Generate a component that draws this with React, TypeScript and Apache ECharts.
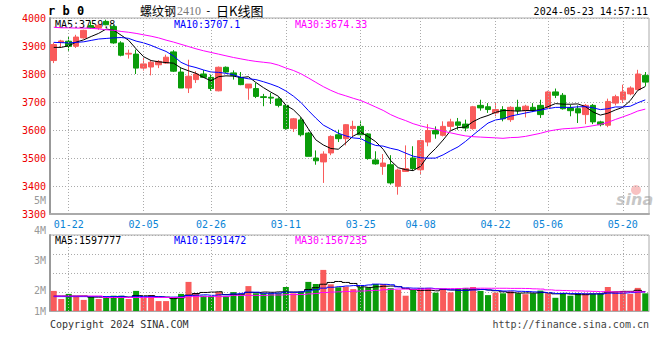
import React, { useEffect, useRef } from "react";
import * as echarts from "echarts";

// ---------- data ----------
const dates = [
  "01-18","01-19","01-22","01-23","01-24","01-25","01-26","01-29","01-30","01-31",
  "02-01","02-02","02-05","02-06","02-07","02-08","02-19","02-20","02-21","02-22",
  "02-23","02-26","02-27","02-28","02-29","03-01","03-04","03-05","03-06","03-07",
  "03-08","03-11","03-12","03-13","03-14","03-15","03-18","03-19","03-20","03-21",
  "03-22","03-25","03-26","03-27","03-28","03-29","04-01","04-02","04-03","04-08",
  "04-09","04-10","04-11","04-12","04-15","04-16","04-17","04-18","04-19","04-22",
  "04-23","04-24","04-25","04-26","04-29","04-30","05-06","05-07","05-08","05-09",
  "05-10","05-13","05-14","05-15","05-16","05-17","05-20","05-21","05-22","05-23",
];
const labelDates = ["01-22","02-05","02-26","03-11","03-25","04-08","04-22","05-06","05-20"];

const opens = [
  3848,3913,3917,3899,3929,3973,3964,3988,3970,3911,
  3871,3871,3821,3825,3833,3839,3879,3807,3750,3780,
  3800,3788,3740,3824,3804,3788,3750,3748,3719,3717,
  3711,3688,3605,3636,3589,3500,3486,3518,3583,3569,
  3605,3613,3586,3493,3470,3476,3399,3452,3500,3458,
  3557,3598,3581,3613,3629,3621,3605,3688,3683,3661,
  3673,3637,3681,3669,3681,3688,3681,3736,3724,3679,
  3676,3655,3688,3629,3617,3696,3708,3729,3744,3795,
];
const closes = [
  3905,3918,3899,3932,3956,3965,3974,3976,3911,3867,
  3874,3821,3836,3842,3845,3860,3810,3750,3792,3800,
  3788,3748,3824,3807,3795,3762,3764,3720,3716,3714,
  3688,3605,3640,3583,3506,3490,3514,3577,3569,3619,
  3613,3583,3498,3479,3482,3411,3457,3462,3462,3562,
  3598,3586,3613,3629,3617,3607,3683,3679,3673,3673,
  3640,3681,3669,3685,3671,3655,3736,3724,3676,3669,
  3661,3688,3629,3619,3702,3719,3736,3750,3800,3771,
];
const lows = [
  3839,3895,3883,3893,3926,3962,3958,3974,3908,3863,
  3855,3800,3812,3795,3821,3836,3807,3750,3732,3768,
  3786,3740,3738,3804,3780,3760,3708,3714,3685,3693,
  3681,3601,3593,3577,3506,3476,3411,3510,3557,3545,
  3577,3565,3494,3476,3440,3405,3369,3450,3455,3443,
  3542,3569,3577,3598,3601,3595,3601,3669,3661,3649,
  3631,3629,3655,3645,3664,3643,3679,3714,3673,3649,
  3625,3621,3621,3613,3610,3688,3696,3724,3744,3756,
];
const highs = [
  3912,3922,3932,3940,3958,3988,3980,3994,3975,3917,
  3887,3887,3860,3848,3850,3869,3885,3821,3851,3810,
  3814,3798,3827,3827,3813,3807,3764,3768,3729,3732,
  3717,3690,3643,3645,3593,3527,3524,3581,3601,3621,
  3633,3631,3589,3524,3514,3510,3462,3545,3542,3565,
  3621,3613,3631,3640,3643,3637,3686,3708,3696,3696,
  3685,3685,3708,3690,3696,3708,3740,3748,3732,3690,
  3688,3693,3693,3633,3712,3726,3762,3756,3815,3807,
];

const ma5 = [
  3895,3895,3901,3914,3922,3934,3945.2,3960.6,3956.4,3938.6,
  3920.4,3889.8,3861.8,3848,3843.6,3840.8,3838.6,3821.4,3811.4,3802.4,
  3788,3775.6,3790.4,3793.4,3792.4,3787.2,3790.4,3769.6,3751.4,3735.2,
  3720.4,3688.6,3672.6,3646,3604.4,3564.8,3546.6,3534,3531.2,3553.8,
  3578.4,3592.2,3576.4,3558.4,3531,3490.6,3465.4,3458.2,3454.8,3470.8,
  3508.2,3534,3564.2,3597.6,3608.6,3610.4,3629.8,3643,3651.8,3663,
  3669.6,3669.2,3667.2,3669.6,3669.2,3672.2,3683.2,3694.2,3692.4,3692,
  3693.2,3683.6,3664.6,3653.2,3659.8,3671.4,3681,3705.2,3741.4,3755.2,
];
const ma10 = [
  3913,3912,3911,3913,3915,3920,3925,3927,3929,3930.3,
  3927.2,3917.5,3911.2,3902.2,3891.1,3880.6,3864.2,3841.6,3829.7,3823,
  3814.4,3807.1,3805.9,3802.4,3797.4,3787.6,3783,3780,3772.4,3763.8,
  3753.8,3739.5,3721.1,3698.7,3669.8,3642.6,3617.6,3603.3,3588.6,3579.1,
  3571.6,3569.4,3555.2,3544.8,3542.4,3534.5,3528.8,3517.3,3506.6,3500.9,
  3499.4,3499.7,3511.2,3526.2,3539.7,3559.3,3581.9,3603.6,3624.7,3635.8,
  3640,3649.5,3655.1,3660.7,3666.1,3670.9,3676.2,3680.7,3681,3680.6,
  3682.7,3683.4,3679.4,3672.8,3675.9,3682.3,3682.3,3684.9,3697.3,3707.5,
];
const ma30 = [
  3967,3965,3965,3964,3964,3963,3961,3958,3956,3952,
  3949,3945,3940,3935,3929,3921,3914,3906,3898,3890,
  3883,3877,3871,3865,3859,3854,3849,3845,3842,3839.0,
  3831.8,3821.4,3812.7,3801.1,3786.1,3770.3,3754.9,3741.6,3730.2,3722.0,
  3713.3,3705.3,3694.1,3682.0,3669.9,3654.9,3643.1,3633.5,3622.5,3614.6,
  3608.3,3602.9,3595.8,3589.9,3584.0,3578.8,3576.1,3574.7,3573.3,3571.9,
  3570.3,3572.9,3573.8,3577.2,3582.7,3588.2,3595.6,3600.5,3604.1,3605.8,
  3607.4,3610.9,3615.2,3619.9,3627.2,3637.5,3646.8,3656.4,3667.7,3674.6,
];

// volumes in millions
const vols = [
  1.97,1.70,1.87,1.80,1.67,1.78,1.70,1.78,1.81,1.81,
  1.70,1.97,1.74,1.83,1.63,1.63,1.74,1.87,2.27,1.90,
  1.81,1.80,1.93,1.80,1.93,1.82,2.13,1.89,1.89,1.89,
  1.89,2.10,1.89,1.93,2.27,2.20,2.67,2.19,2.09,2.11,
  2.03,2.11,2.09,2.20,2.20,2.06,2.00,1.81,2.00,2.07,
  2.07,1.91,2.03,1.92,2.03,2.07,2.10,1.97,1.83,1.91,
  1.89,1.96,1.89,1.86,1.89,1.98,1.89,1.74,1.89,1.81,
  1.89,1.89,1.87,1.89,2.10,1.94,1.97,1.87,2.07,1.89,
];
const vma5 = [
  1.80,1.80,1.80,1.80,1.802,1.764,1.764,1.746,1.748,1.776,
  1.76,1.814,1.806,1.81,1.774,1.76,1.714,1.74,1.828,1.882,
  1.918,1.93,1.942,1.848,1.854,1.856,1.922,1.914,1.932,1.924,
  1.938,1.932,1.932,1.94,2.016,2.078,2.192,2.252,2.284,2.252,
  2.218,2.106,2.086,2.108,2.126,2.132,2.11,2.054,2.014,1.988,
  1.99,1.972,2.016,2.0,1.992,1.992,2.03,2.018,2.0,1.976,
  1.94,1.912,1.896,1.902,1.898,1.916,1.902,1.872,1.878,1.862,
  1.844,1.844,1.87,1.87,1.928,1.938,1.954,1.954,1.99,1.948,
];
const vma10 = [
  1.78,1.78,1.78,1.78,1.78,1.78,1.78,1.78,1.78,1.789,
  1.762,1.789,1.776,1.779,1.775,1.76,1.764,1.773,1.819,1.828,
  1.839,1.822,1.841,1.838,1.868,1.887,1.926,1.928,1.89,1.889,
  1.897,1.927,1.923,1.936,1.97,2.008,2.062,2.092,2.112,2.134,
  2.148,2.149,2.169,2.196,2.189,2.175,2.108,2.07,2.061,2.057,
  2.061,2.041,2.035,2.007,1.99,1.991,2.001,2.017,2.0,1.984,
  1.966,1.971,1.957,1.951,1.937,1.928,1.907,1.884,1.89,1.88,
  1.88,1.873,1.871,1.874,1.895,1.891,1.899,1.912,1.93,1.938,
];
const vma30 = [
  1.80,1.80,1.80,1.80,1.80,1.80,1.80,1.75,1.75,1.75,
  1.75,1.75,1.75,1.75,1.75,1.75,1.75,1.75,1.78,1.78,
  1.78,1.78,1.78,1.78,1.82,1.82,1.82,1.82,1.82,1.835,
  1.833,1.846,1.847,1.851,1.871,1.885,1.917,1.931,1.94,1.95,
  1.961,1.966,1.978,1.99,2.009,2.023,2.032,2.03,2.021,2.027,
  2.035,2.039,2.042,2.046,2.05,2.058,2.057,2.06,2.058,2.058,
  2.058,2.054,2.054,2.051,2.039,2.031,2.005,1.99,1.984,1.974,
  1.969,1.962,1.954,1.944,1.941,1.937,1.936,1.938,1.94,1.934,
];

const volTickLabels = ["5M", "4M", "3M", "2M", "1M"];
const volTickValues = [5, 4, 3, 2, 1];
const priceMALabels = ["MA5:3759.8", "MA10:3707.1", "MA30:3674.33"];
const volMALabels = ["MA5:1597777", "MA10:1591472", "MA30:1567235"];
const symbolText = "r b 0";
const titleMain = "螺纹钢";
const titleCode = "2410";
const titleDash = "-";
const titleKind = "日K线图";
const timestamp = "2024-05-23 14:57:11";
const copyright = "Copyright 2024 SINA.COM";
const siteUrl = "http://finance.sina.com.cn";

// ---------- styles / layout ----------
const RED = "#f95b5b";
const GREEN = "#0a9c0a";
const MA_COLORS = ["#000000", "#0000ff", "#ff00ff"];
const MONO = '"DejaVu Sans Mono", monospace';
const CJK = '"Noto Sans CJK SC", sans-serif';
const GRID_L = 50;
const GRID_W = 599;
const P_TOP = 18;
const P_H = 196;
const V_TOP = 235;
const V_H = 76;
const V_MIN = 1.3;
const V_MAX = V_MIN + V_H / 30;
const LEGEND_X = [55, 174, 295];
const HEAD_Y = 10.5;

export default function App() {
  const ref = useRef<HTMLDivElement>(null);

  useEffect(() => {
    if (!ref.current) return;
    const chart = echarts.init(ref.current, null, { renderer: "svg" });

    const candleData = dates.map((_, i) => [opens[i], closes[i], lows[i], highs[i]]);
    const vLines = {
      symbol: ["none", "none"],
      silent: true,
      label: { show: false },
      emphasis: { disabled: true },
      lineStyle: { color: "#aaa", type: [1, 2], width: 1 },
      data: labelDates.map((d) => ({ xAxis: d })),
    };

    const texts: any[] = [];
    const txt = (x: number, y: number, text: string, fill: string, extra: any = {}) =>
      texts.push({
        type: "text",
        x,
        y,
        silent: true,
        style: { text, fill, fontFamily: MONO, fontSize: 10, verticalAlign: "middle", ...extra },
      });

    txt(48, HEAD_Y, symbolText, "#000", { fontSize: 12, fontWeight: "bold" });
    txt(140, HEAD_Y, titleMain, "#000", { fontFamily: CJK, fontSize: 12 });
    txt(177, HEAD_Y, titleCode, "#777", { fontFamily: '"Liberation Serif", serif', fontSize: 12 });
    txt(205, HEAD_Y, titleDash, "#000", { fontSize: 11 });
    txt(216, HEAD_Y, titleKind, "#000", { fontFamily: CJK, fontSize: 13 });
    txt(648, HEAD_Y + 1, timestamp, "#000", { align: "right" });

    priceMALabels.forEach((t, i) => txt(LEGEND_X[i], 24, t, MA_COLORS[i]));
    volMALabels.forEach((t, i) => txt(LEGEND_X[i], 240, t, MA_COLORS[i]));

    volTickLabels.forEach((t, i) => {
      const y = Math.min(V_TOP + V_H, V_TOP + ((V_MAX - volTickValues[i]) / (V_MAX - V_MIN)) * V_H);
      txt(46, y, t, "#999", { align: "right" });
    });

    txt(GRID_L, 324, copyright, "#333");
    txt(GRID_L + GRID_W, 324, siteUrl, "#444", { align: "right" });

    // sina watermark
    texts.push({
      type: "text",
      x: 616,
      y: 199,
      silent: true,
      style: {
        text: "sina",
        fill: "rgba(150,150,150,0.55)",
        fontFamily: '"DejaVu Sans", sans-serif',
        fontSize: 16,
        fontWeight: "bold",
        fontStyle: "italic",
        verticalAlign: "middle",
      },
    });
    texts.push({
      type: "circle",
      silent: true,
      shape: { cx: 636, cy: 190, r: 5 },
      style: { fill: "rgba(240,120,120,0.45)" },
    });

    const option: any = {
      animation: false,
      backgroundColor: "#fff",
      grid: [
        { left: GRID_L, top: P_TOP, width: GRID_W, height: P_H, show: true, borderColor: "#aaa", borderWidth: 1 },
        { left: GRID_L, top: V_TOP, width: GRID_W, height: V_H, show: true, borderColor: "#aaa", borderWidth: 1 },
      ],
      xAxis: [
        {
          gridIndex: 0,
          type: "category",
          data: dates,
          boundaryGap: true,
          axisLine: { show: true, lineStyle: { color: "#aaa", width: 2 } },
          axisTick: { show: false },
          splitLine: { show: false },
          axisLabel: {
            interval: (_: number, v: string) => labelDates.includes(v),
            color: "#0a84d6",
            fontFamily: MONO,
            fontSize: 10,
            margin: 5,
          },
        },
        {
          gridIndex: 1,
          type: "category",
          data: dates,
          boundaryGap: true,
          axisLine: { show: true, lineStyle: { color: "#aaa", width: 1 } },
          axisTick: { show: false },
          axisLabel: { show: false },
          splitLine: { show: false },
        },
      ],
      yAxis: [
        {
          gridIndex: 0,
          type: "value",
          min: 3300,
          max: 4000,
          interval: 100,
          axisLine: { show: true, lineStyle: { color: "#999", width: 2 } },
          axisTick: { show: false },
          axisLabel: {
            color: "#ee0000",
            fontFamily: MONO,
            fontSize: 10,
            margin: 4,
            formatter: (v: number) => String(v),
          },
          splitLine: { show: true, lineStyle: { color: "#aaa", type: [1, 2], width: 1 } },
        },
        {
          gridIndex: 1,
          type: "value",
          min: V_MIN,
          max: V_MAX,
          axisLine: { show: true, lineStyle: { color: "#999", width: 2 } },
          axisTick: { show: false },
          axisLabel: { show: false },
          splitLine: { show: false },
        },
        {
          gridIndex: 1,
          type: "value",
          min: 0,
          max: 4,
          interval: 1,
          axisLine: { show: false },
          axisTick: { show: false },
          axisLabel: { show: false },
          splitLine: { show: true, lineStyle: { color: "#aaa", type: [1, 2], width: 1 } },
        },
      ],
      series: [
        {
          type: "candlestick",
          xAxisIndex: 0,
          yAxisIndex: 0,
          data: candleData,
          barWidth: 6,
          itemStyle: { color: RED, color0: GREEN, borderColor: RED, borderColor0: GREEN, borderWidth: 1 },
          emphasis: { disabled: true },
          markLine: vLines,
          z: 2,
        },
        ...[ma5, ma10, ma30].map((d, i) => ({
          type: "line",
          xAxisIndex: 0,
          yAxisIndex: 0,
          data: d,
          symbol: "none",
          silent: true,
          lineStyle: { color: MA_COLORS[i], width: 1 },
          itemStyle: { color: MA_COLORS[i] },
          emphasis: { disabled: true },
          z: 3,
        })),
        {
          type: "bar",
          xAxisIndex: 1,
          yAxisIndex: 1,
          data: vols,
          barWidth: 6,
          clip: true,
          itemStyle: {
            color: (p: any) => (closes[p.dataIndex] >= opens[p.dataIndex] ? RED : GREEN),
          },
          emphasis: { disabled: true },
          markLine: vLines,
          z: 2,
        },
        ...[vma5, vma10, vma30].map((d, i) => ({
          type: "line",
          xAxisIndex: 1,
          yAxisIndex: 1,
          data: d,
          step: "middle",
          symbol: "none",
          silent: true,
          lineStyle: { color: MA_COLORS[i], width: 1 },
          itemStyle: { color: MA_COLORS[i] },
          emphasis: { disabled: true },
          z: 3,
        })),
      ],
      graphic: texts,
    };

    chart.setOption(option);
    return () => chart.dispose();
  }, []);

  return (
    <div
      ref={ref}
      style={{ position: "absolute", left: 0, top: 0, width: 660, height: 360 }}
    />
  );
}
